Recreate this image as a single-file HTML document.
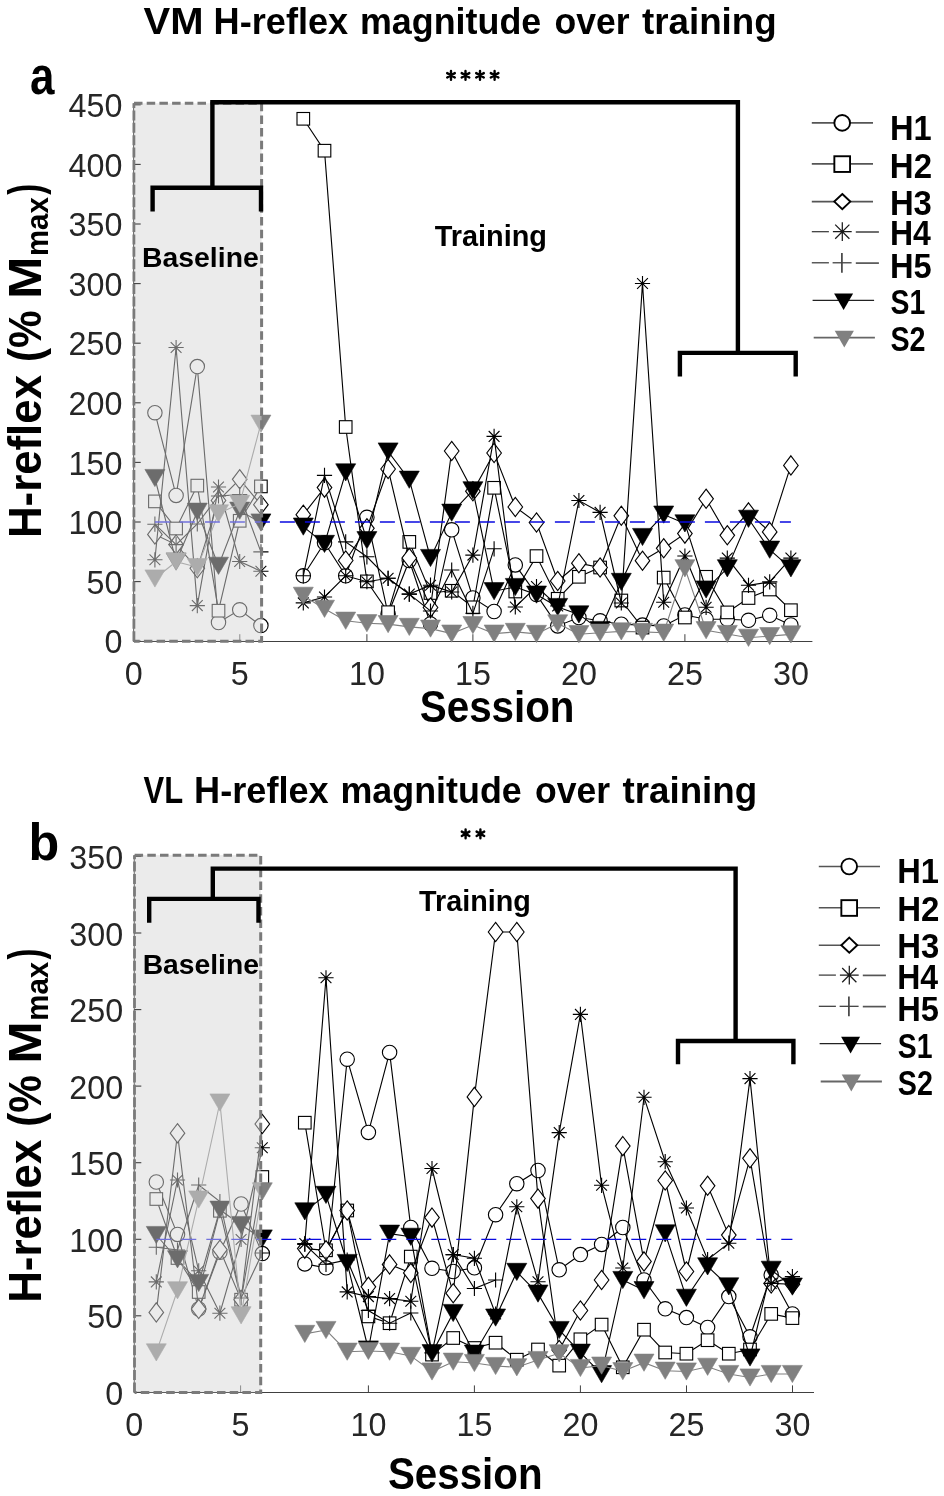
<!DOCTYPE html>
<html><head><meta charset="utf-8"><title>H-reflex magnitude over training</title>
<style>
html,body{margin:0;padding:0;background:#fff;}
body{width:944px;height:1496px;overflow:hidden;font-family:"Liberation Sans",sans-serif;}
svg{display:block;font-family:"Liberation Sans",sans-serif;}
</style></head><body>
<svg style="will-change:transform" width="944" height="1496" viewBox="0 0 944 1496">
<rect width="944" height="1496" fill="#fff"/>
<g id="panel-a">
<path d="M133.7 103.3V641.5H812.4" fill="none" stroke="#404040" stroke-width="1"/>
<line x1="133.7" y1="641.2" x2="133.7" y2="634.2" stroke="#404040" stroke-width="1"/>
<line x1="239.8" y1="641.2" x2="239.8" y2="634.2" stroke="#404040" stroke-width="1"/>
<line x1="366.9" y1="641.2" x2="366.9" y2="634.2" stroke="#404040" stroke-width="1"/>
<line x1="472.9" y1="641.2" x2="472.9" y2="634.2" stroke="#404040" stroke-width="1"/>
<line x1="578.9" y1="641.2" x2="578.9" y2="634.2" stroke="#404040" stroke-width="1"/>
<line x1="684.9" y1="641.2" x2="684.9" y2="634.2" stroke="#404040" stroke-width="1"/>
<line x1="790.9" y1="641.2" x2="790.9" y2="634.2" stroke="#404040" stroke-width="1"/>
<polyline fill="none" stroke="#000" stroke-width="1.12" points="154.9,412.7 176.1,495.4 197.3,366.6 218.5,622.5 239.7,609.8 260.9,625.6"/>
<circle cx="154.9" cy="412.7" r="7.2" fill="#fff" stroke="#000" stroke-width="1.12"/>
<circle cx="176.1" cy="495.4" r="7.2" fill="#fff" stroke="#000" stroke-width="1.12"/>
<circle cx="197.3" cy="366.6" r="7.2" fill="#fff" stroke="#000" stroke-width="1.12"/>
<circle cx="218.5" cy="622.5" r="7.2" fill="#fff" stroke="#000" stroke-width="1.12"/>
<circle cx="239.7" cy="609.8" r="7.2" fill="#fff" stroke="#000" stroke-width="1.12"/>
<circle cx="260.9" cy="625.6" r="7.2" fill="#fff" stroke="#000" stroke-width="1.12"/>
<polyline fill="none" stroke="#000" stroke-width="1.12" points="303.3,575.8 324.5,542.7 345.7,575.8 366.9,517.3 388.1,614.0 409.3,560.5 430.5,624.0 451.7,529.8 472.9,598.0 494.1,611.5 515.3,564.9 536.5,594.6 557.7,625.9 578.9,617.5 600.1,620.8 621.3,624.2 642.5,625.1 663.7,625.9 684.9,615.0 706.1,619.2 727.3,619.2 748.5,620.3 769.7,615.3 790.9,625.0"/>
<circle cx="303.3" cy="575.8" r="7.2" fill="#fff" stroke="#000" stroke-width="1.12"/>
<circle cx="324.5" cy="542.7" r="7.2" fill="#fff" stroke="#000" stroke-width="1.12"/>
<circle cx="345.7" cy="575.8" r="7.2" fill="#fff" stroke="#000" stroke-width="1.12"/>
<circle cx="366.9" cy="517.3" r="7.2" fill="#fff" stroke="#000" stroke-width="1.12"/>
<circle cx="388.1" cy="614" r="7.2" fill="#fff" stroke="#000" stroke-width="1.12"/>
<circle cx="409.3" cy="560.5" r="7.2" fill="#fff" stroke="#000" stroke-width="1.12"/>
<circle cx="430.5" cy="624" r="7.2" fill="#fff" stroke="#000" stroke-width="1.12"/>
<circle cx="451.7" cy="529.8" r="7.2" fill="#fff" stroke="#000" stroke-width="1.12"/>
<circle cx="472.9" cy="598" r="7.2" fill="#fff" stroke="#000" stroke-width="1.12"/>
<circle cx="494.1" cy="611.5" r="7.2" fill="#fff" stroke="#000" stroke-width="1.12"/>
<circle cx="515.3" cy="564.9" r="7.2" fill="#fff" stroke="#000" stroke-width="1.12"/>
<circle cx="536.5" cy="594.6" r="7.2" fill="#fff" stroke="#000" stroke-width="1.12"/>
<circle cx="557.7" cy="625.9" r="7.2" fill="#fff" stroke="#000" stroke-width="1.12"/>
<circle cx="578.9" cy="617.5" r="7.2" fill="#fff" stroke="#000" stroke-width="1.12"/>
<circle cx="600.1" cy="620.8" r="7.2" fill="#fff" stroke="#000" stroke-width="1.12"/>
<circle cx="621.3" cy="624.2" r="7.2" fill="#fff" stroke="#000" stroke-width="1.12"/>
<circle cx="642.5" cy="625.1" r="7.2" fill="#fff" stroke="#000" stroke-width="1.12"/>
<circle cx="663.7" cy="625.9" r="7.2" fill="#fff" stroke="#000" stroke-width="1.12"/>
<circle cx="684.9" cy="615" r="7.2" fill="#fff" stroke="#000" stroke-width="1.12"/>
<circle cx="706.1" cy="619.2" r="7.2" fill="#fff" stroke="#000" stroke-width="1.12"/>
<circle cx="727.3" cy="619.2" r="7.2" fill="#fff" stroke="#000" stroke-width="1.12"/>
<circle cx="748.5" cy="620.3" r="7.2" fill="#fff" stroke="#000" stroke-width="1.12"/>
<circle cx="769.7" cy="615.3" r="7.2" fill="#fff" stroke="#000" stroke-width="1.12"/>
<circle cx="790.9" cy="625" r="7.2" fill="#fff" stroke="#000" stroke-width="1.12"/>
<polyline fill="none" stroke="#000" stroke-width="1.12" points="154.9,501.4 176.1,528.5 197.3,485.6 218.5,610.7 239.7,520.8 260.9,486.4"/>
<rect x="148.6" y="495.1" width="12.6" height="12.6" fill="#fff" stroke="#000" stroke-width="1.12"/>
<rect x="169.8" y="522.2" width="12.6" height="12.6" fill="#fff" stroke="#000" stroke-width="1.12"/>
<rect x="191.0" y="479.3" width="12.6" height="12.6" fill="#fff" stroke="#000" stroke-width="1.12"/>
<rect x="212.2" y="604.4" width="12.6" height="12.6" fill="#fff" stroke="#000" stroke-width="1.12"/>
<rect x="233.4" y="514.5" width="12.6" height="12.6" fill="#fff" stroke="#000" stroke-width="1.12"/>
<rect x="254.6" y="480.1" width="12.6" height="12.6" fill="#fff" stroke="#000" stroke-width="1.12"/>
<polyline fill="none" stroke="#000" stroke-width="1.12" points="303.3,118.8 324.5,150.7 345.7,427.0 366.9,581.4 388.1,612.2 409.3,541.9 430.5,593.0 451.7,590.8 472.9,607.3 494.1,487.8 515.3,591.5 536.5,556.1 557.7,598.8 578.9,576.8 600.1,567.5 621.3,600.5 642.5,627.6 663.7,577.6 684.9,617.5 706.1,576.8 727.3,612.4 748.5,598.0 769.7,589.5 790.9,610.2"/>
<rect x="297.0" y="112.5" width="12.6" height="12.6" fill="#fff" stroke="#000" stroke-width="1.12"/>
<rect x="318.2" y="144.4" width="12.6" height="12.6" fill="#fff" stroke="#000" stroke-width="1.12"/>
<rect x="339.4" y="420.7" width="12.6" height="12.6" fill="#fff" stroke="#000" stroke-width="1.12"/>
<rect x="360.6" y="575.1" width="12.6" height="12.6" fill="#fff" stroke="#000" stroke-width="1.12"/>
<rect x="381.8" y="605.9" width="12.6" height="12.6" fill="#fff" stroke="#000" stroke-width="1.12"/>
<rect x="403.0" y="535.6" width="12.6" height="12.6" fill="#fff" stroke="#000" stroke-width="1.12"/>
<rect x="424.2" y="586.7" width="12.6" height="12.6" fill="#fff" stroke="#000" stroke-width="1.12"/>
<rect x="445.4" y="584.5" width="12.6" height="12.6" fill="#fff" stroke="#000" stroke-width="1.12"/>
<rect x="466.6" y="601.0" width="12.6" height="12.6" fill="#fff" stroke="#000" stroke-width="1.12"/>
<rect x="487.8" y="481.5" width="12.6" height="12.6" fill="#fff" stroke="#000" stroke-width="1.12"/>
<rect x="509.0" y="585.2" width="12.6" height="12.6" fill="#fff" stroke="#000" stroke-width="1.12"/>
<rect x="530.2" y="549.8" width="12.6" height="12.6" fill="#fff" stroke="#000" stroke-width="1.12"/>
<rect x="551.4" y="592.5" width="12.6" height="12.6" fill="#fff" stroke="#000" stroke-width="1.12"/>
<rect x="572.6" y="570.5" width="12.6" height="12.6" fill="#fff" stroke="#000" stroke-width="1.12"/>
<rect x="593.8" y="561.2" width="12.6" height="12.6" fill="#fff" stroke="#000" stroke-width="1.12"/>
<rect x="615.0" y="594.2" width="12.6" height="12.6" fill="#fff" stroke="#000" stroke-width="1.12"/>
<rect x="636.2" y="621.3" width="12.6" height="12.6" fill="#fff" stroke="#000" stroke-width="1.12"/>
<rect x="657.4" y="571.3" width="12.6" height="12.6" fill="#fff" stroke="#000" stroke-width="1.12"/>
<rect x="678.6" y="611.2" width="12.6" height="12.6" fill="#fff" stroke="#000" stroke-width="1.12"/>
<rect x="699.8" y="570.5" width="12.6" height="12.6" fill="#fff" stroke="#000" stroke-width="1.12"/>
<rect x="721.0" y="606.1" width="12.6" height="12.6" fill="#fff" stroke="#000" stroke-width="1.12"/>
<rect x="742.2" y="591.7" width="12.6" height="12.6" fill="#fff" stroke="#000" stroke-width="1.12"/>
<rect x="763.4" y="583.2" width="12.6" height="12.6" fill="#fff" stroke="#000" stroke-width="1.12"/>
<rect x="784.6" y="603.9" width="12.6" height="12.6" fill="#fff" stroke="#000" stroke-width="1.12"/>
<polyline fill="none" stroke="#000" stroke-width="1.12" points="154.9,534.4 176.1,544.6 197.3,568.3 218.5,500.5 239.7,479.3 260.9,504.7"/>
<path d="M154.9 524.8L162.2 534.4L154.9 544.0L147.6 534.4Z" fill="#fff" stroke="#000" stroke-width="1.12"/>
<path d="M176.1 535.0L183.4 544.6L176.1 554.2L168.8 544.6Z" fill="#fff" stroke="#000" stroke-width="1.12"/>
<path d="M197.3 558.7L204.6 568.3L197.3 577.9L190.0 568.3Z" fill="#fff" stroke="#000" stroke-width="1.12"/>
<path d="M218.5 490.9L225.8 500.5L218.5 510.1L211.2 500.5Z" fill="#fff" stroke="#000" stroke-width="1.12"/>
<path d="M239.7 469.7L247.0 479.3L239.7 488.9L232.4 479.3Z" fill="#fff" stroke="#000" stroke-width="1.12"/>
<path d="M260.9 495.1L268.2 504.7L260.9 514.3L253.6 504.7Z" fill="#fff" stroke="#000" stroke-width="1.12"/>
<polyline fill="none" stroke="#000" stroke-width="1.12" points="303.3,514.7 324.5,487.6 345.7,560.5 366.9,528.3 388.1,469.0 409.3,558.0 430.5,607.5 451.7,451.0 472.9,491.2 494.1,453.0 515.3,507.0 536.5,522.5 557.7,581.0 578.9,563.2 600.1,567.5 621.3,515.8 642.5,560.7 663.7,548.3 684.9,533.6 706.1,498.8 727.3,535.3 748.5,512.4 769.7,531.9 790.9,465.4"/>
<path d="M303.3 505.1L310.6 514.7L303.3 524.3L296.0 514.7Z" fill="#fff" stroke="#000" stroke-width="1.12"/>
<path d="M324.5 478.0L331.8 487.6L324.5 497.2L317.2 487.6Z" fill="#fff" stroke="#000" stroke-width="1.12"/>
<path d="M345.7 550.9L353.0 560.5L345.7 570.1L338.4 560.5Z" fill="#fff" stroke="#000" stroke-width="1.12"/>
<path d="M366.9 518.7L374.2 528.3L366.9 537.9L359.6 528.3Z" fill="#fff" stroke="#000" stroke-width="1.12"/>
<path d="M388.1 459.4L395.4 469L388.1 478.6L380.8 469Z" fill="#fff" stroke="#000" stroke-width="1.12"/>
<path d="M409.3 548.4L416.6 558L409.3 567.6L402.0 558Z" fill="#fff" stroke="#000" stroke-width="1.12"/>
<path d="M430.5 597.9L437.8 607.5L430.5 617.1L423.2 607.5Z" fill="#fff" stroke="#000" stroke-width="1.12"/>
<path d="M451.7 441.4L459.0 451L451.7 460.6L444.4 451Z" fill="#fff" stroke="#000" stroke-width="1.12"/>
<path d="M472.9 481.6L480.2 491.2L472.9 500.8L465.6 491.2Z" fill="#fff" stroke="#000" stroke-width="1.12"/>
<path d="M494.1 443.4L501.4 453L494.1 462.6L486.8 453Z" fill="#fff" stroke="#000" stroke-width="1.12"/>
<path d="M515.3 497.4L522.6 507L515.3 516.6L508.0 507Z" fill="#fff" stroke="#000" stroke-width="1.12"/>
<path d="M536.5 512.9L543.8 522.5L536.5 532.1L529.2 522.5Z" fill="#fff" stroke="#000" stroke-width="1.12"/>
<path d="M557.7 571.4L565.0 581L557.7 590.6L550.4 581Z" fill="#fff" stroke="#000" stroke-width="1.12"/>
<path d="M578.9 553.6L586.2 563.2L578.9 572.8L571.6 563.2Z" fill="#fff" stroke="#000" stroke-width="1.12"/>
<path d="M600.1 557.9L607.4 567.5L600.1 577.1L592.8 567.5Z" fill="#fff" stroke="#000" stroke-width="1.12"/>
<path d="M621.3 506.2L628.6 515.8L621.3 525.4L614.0 515.8Z" fill="#fff" stroke="#000" stroke-width="1.12"/>
<path d="M642.5 551.1L649.8 560.7L642.5 570.3L635.2 560.7Z" fill="#fff" stroke="#000" stroke-width="1.12"/>
<path d="M663.7 538.7L671.0 548.3L663.7 557.9L656.4 548.3Z" fill="#fff" stroke="#000" stroke-width="1.12"/>
<path d="M684.9 524.0L692.2 533.6L684.9 543.2L677.6 533.6Z" fill="#fff" stroke="#000" stroke-width="1.12"/>
<path d="M706.1 489.2L713.4 498.8L706.1 508.4L698.8 498.8Z" fill="#fff" stroke="#000" stroke-width="1.12"/>
<path d="M727.3 525.7L734.6 535.3L727.3 544.9L720.0 535.3Z" fill="#fff" stroke="#000" stroke-width="1.12"/>
<path d="M748.5 502.8L755.8 512.4L748.5 522.0L741.2 512.4Z" fill="#fff" stroke="#000" stroke-width="1.12"/>
<path d="M769.7 522.3L777.0 531.9L769.7 541.5L762.4 531.9Z" fill="#fff" stroke="#000" stroke-width="1.12"/>
<path d="M790.9 455.8L798.2 465.4L790.9 475.0L783.6 465.4Z" fill="#fff" stroke="#000" stroke-width="1.12"/>
<polyline fill="none" stroke="#000" stroke-width="1.12" points="154.9,559.8 176.1,347.5 197.3,605.6 218.5,487.0 239.7,561.5 260.9,571.2"/>
<path d="M147.3 559.8H162.5M154.9 552.2V567.4M149.5 554.4L160.3 565.2M149.5 565.2L160.3 554.4" fill="none" stroke="#000" stroke-width="1.12"/>
<path d="M168.5 347.5H183.7M176.1 339.9V355.1M170.7 342.1L181.5 352.9M170.7 352.9L181.5 342.1" fill="none" stroke="#000" stroke-width="1.12"/>
<path d="M189.7 605.6H204.9M197.3 598.0V613.2M191.9 600.2L202.7 611.0M191.9 611.0L202.7 600.2" fill="none" stroke="#000" stroke-width="1.12"/>
<path d="M210.9 487H226.1M218.5 479.4V494.6M213.1 481.6L223.9 492.4M213.1 492.4L223.9 481.6" fill="none" stroke="#000" stroke-width="1.12"/>
<path d="M232.1 561.5H247.3M239.7 553.9V569.1M234.3 556.1L245.1 566.9M234.3 566.9L245.1 556.1" fill="none" stroke="#000" stroke-width="1.12"/>
<path d="M253.3 571.2H268.5M260.9 563.6V578.8M255.5 565.8L266.3 576.6M255.5 576.6L266.3 565.8" fill="none" stroke="#000" stroke-width="1.12"/>
<polyline fill="none" stroke="#000" stroke-width="1.12" points="303.3,602.9 324.5,597.0 345.7,575.8 366.9,581.7 388.1,578.3 409.3,594.1 430.5,585.2 451.7,592.0 472.9,555.1 494.1,436.4 515.3,607.0 536.5,586.5 557.7,606.0 578.9,500.5 600.1,512.4 621.3,603.0 642.5,283.5 663.7,602.2 684.9,556.0 706.1,607.3 727.3,558.1 748.5,585.3 769.7,581.9 790.9,558.1"/>
<path d="M295.7 602.9H310.9M303.3 595.3V610.5M297.9 597.5L308.7 608.3M297.9 608.3L308.7 597.5" fill="none" stroke="#000" stroke-width="1.12"/>
<path d="M316.9 597H332.1M324.5 589.4V604.6M319.1 591.6L329.9 602.4M319.1 602.4L329.9 591.6" fill="none" stroke="#000" stroke-width="1.12"/>
<path d="M338.1 575.8H353.3M345.7 568.2V583.4M340.3 570.4L351.1 581.2M340.3 581.2L351.1 570.4" fill="none" stroke="#000" stroke-width="1.12"/>
<path d="M359.3 581.7H374.5M366.9 574.1V589.3M361.5 576.3L372.3 587.1M361.5 587.1L372.3 576.3" fill="none" stroke="#000" stroke-width="1.12"/>
<path d="M380.5 578.3H395.7M388.1 570.7V585.9M382.7 572.9L393.5 583.7M382.7 583.7L393.5 572.9" fill="none" stroke="#000" stroke-width="1.12"/>
<path d="M401.7 594.1H416.9M409.3 586.5V601.7M403.9 588.7L414.7 599.5M403.9 599.5L414.7 588.7" fill="none" stroke="#000" stroke-width="1.12"/>
<path d="M422.9 585.2H438.1M430.5 577.6V592.8M425.1 579.8L435.9 590.6M425.1 590.6L435.9 579.8" fill="none" stroke="#000" stroke-width="1.12"/>
<path d="M444.1 592H459.3M451.7 584.4V599.6M446.3 586.6L457.1 597.4M446.3 597.4L457.1 586.6" fill="none" stroke="#000" stroke-width="1.12"/>
<path d="M465.3 555.1H480.5M472.9 547.5V562.7M467.5 549.7L478.3 560.5M467.5 560.5L478.3 549.7" fill="none" stroke="#000" stroke-width="1.12"/>
<path d="M486.5 436.4H501.7M494.1 428.8V444.0M488.7 431.0L499.5 441.8M488.7 441.8L499.5 431.0" fill="none" stroke="#000" stroke-width="1.12"/>
<path d="M507.7 607H522.9M515.3 599.4V614.6M509.9 601.6L520.7 612.4M509.9 612.4L520.7 601.6" fill="none" stroke="#000" stroke-width="1.12"/>
<path d="M528.9 586.5H544.1M536.5 578.9V594.1M531.1 581.1L541.9 591.9M531.1 591.9L541.9 581.1" fill="none" stroke="#000" stroke-width="1.12"/>
<path d="M550.1 606H565.3M557.7 598.4V613.6M552.3 600.6L563.1 611.4M552.3 611.4L563.1 600.6" fill="none" stroke="#000" stroke-width="1.12"/>
<path d="M571.3 500.5H586.5M578.9 492.9V508.1M573.5 495.1L584.3 505.9M573.5 505.9L584.3 495.1" fill="none" stroke="#000" stroke-width="1.12"/>
<path d="M592.5 512.4H607.7M600.1 504.8V520.0M594.7 507.0L605.5 517.8M594.7 517.8L605.5 507.0" fill="none" stroke="#000" stroke-width="1.12"/>
<path d="M613.7 603H628.9M621.3 595.4V610.6M615.9 597.6L626.7 608.4M615.9 608.4L626.7 597.6" fill="none" stroke="#000" stroke-width="1.12"/>
<path d="M634.9 283.5H650.1M642.5 275.9V291.1M637.1 278.1L647.9 288.9M637.1 288.9L647.9 278.1" fill="none" stroke="#000" stroke-width="1.12"/>
<path d="M656.1 602.2H671.3M663.7 594.6V609.8M658.3 596.8L669.1 607.6M658.3 607.6L669.1 596.8" fill="none" stroke="#000" stroke-width="1.12"/>
<path d="M677.3 556H692.5M684.9 548.4V563.6M679.5 550.6L690.3 561.4M679.5 561.4L690.3 550.6" fill="none" stroke="#000" stroke-width="1.12"/>
<path d="M698.5 607.3H713.7M706.1 599.7V614.9M700.7 601.9L711.5 612.7M700.7 612.7L711.5 601.9" fill="none" stroke="#000" stroke-width="1.12"/>
<path d="M719.7 558.1H734.9M727.3 550.5V565.7M721.9 552.7L732.7 563.5M721.9 563.5L732.7 552.7" fill="none" stroke="#000" stroke-width="1.12"/>
<path d="M740.9 585.3H756.1M748.5 577.7V592.9M743.1 579.9L753.9 590.7M743.1 590.7L753.9 579.9" fill="none" stroke="#000" stroke-width="1.12"/>
<path d="M762.1 581.9H777.3M769.7 574.3V589.5M764.3 576.5L775.1 587.3M764.3 587.3L775.1 576.5" fill="none" stroke="#000" stroke-width="1.12"/>
<path d="M783.3 558.1H798.5M790.9 550.5V565.7M785.5 552.7L796.3 563.5M785.5 563.5L796.3 552.7" fill="none" stroke="#000" stroke-width="1.12"/>
<polyline fill="none" stroke="#000" stroke-width="1.12" points="154.9,524.2 176.1,544.6 197.3,524.0 218.5,496.0 239.7,494.6 260.9,551.9"/>
<path d="M147.3 524.2H162.5M154.9 516.6V531.8" fill="none" stroke="#000" stroke-width="1.12"/>
<path d="M168.5 544.6H183.7M176.1 537.0V552.2" fill="none" stroke="#000" stroke-width="1.12"/>
<path d="M189.7 524H204.9M197.3 516.4V531.6" fill="none" stroke="#000" stroke-width="1.12"/>
<path d="M210.9 496H226.1M218.5 488.4V503.6" fill="none" stroke="#000" stroke-width="1.12"/>
<path d="M232.1 494.6H247.3M239.7 487.0V502.2" fill="none" stroke="#000" stroke-width="1.12"/>
<path d="M253.3 551.9H268.5M260.9 544.3V559.5" fill="none" stroke="#000" stroke-width="1.12"/>
<polyline fill="none" stroke="#000" stroke-width="1.12" points="303.3,575.8 324.5,475.4 345.7,541.9 366.9,556.8 388.1,578.3 409.3,594.1 430.5,611.0 451.7,570.0 472.9,613.3 494.1,548.8"/>
<path d="M295.7 575.8H310.9M303.3 568.2V583.4" fill="none" stroke="#000" stroke-width="1.12"/>
<path d="M316.9 475.4H332.1M324.5 467.8V483.0" fill="none" stroke="#000" stroke-width="1.12"/>
<path d="M338.1 541.9H353.3M345.7 534.3V549.5" fill="none" stroke="#000" stroke-width="1.12"/>
<path d="M359.3 556.8H374.5M366.9 549.2V564.4" fill="none" stroke="#000" stroke-width="1.12"/>
<path d="M380.5 578.3H395.7M388.1 570.7V585.9" fill="none" stroke="#000" stroke-width="1.12"/>
<path d="M401.7 594.1H416.9M409.3 586.5V601.7" fill="none" stroke="#000" stroke-width="1.12"/>
<path d="M422.9 611H438.1M430.5 603.4V618.6" fill="none" stroke="#000" stroke-width="1.12"/>
<path d="M444.1 570H459.3M451.7 562.4V577.6" fill="none" stroke="#000" stroke-width="1.12"/>
<path d="M465.3 613.3H480.5M472.9 605.7V620.9" fill="none" stroke="#000" stroke-width="1.12"/>
<path d="M486.5 548.8H501.7M494.1 541.2V556.4" fill="none" stroke="#000" stroke-width="1.12"/>
<polyline fill="none" stroke="#000" stroke-width="1.12" points="154.9,478.0 176.1,561.5 197.3,511.7 218.5,565.8 239.7,510.7 260.9,522.5"/>
<path d="M144.9 469.4H164.9L154.9 486.6Z" fill="#000" stroke="#000" stroke-width="0.6"/>
<path d="M166.1 552.9H186.1L176.1 570.1Z" fill="#000" stroke="#000" stroke-width="0.6"/>
<path d="M187.3 503.1H207.3L197.3 520.3Z" fill="#000" stroke="#000" stroke-width="0.6"/>
<path d="M208.5 557.2H228.5L218.5 574.4Z" fill="#000" stroke="#000" stroke-width="0.6"/>
<path d="M229.7 502.1H249.7L239.7 519.3Z" fill="#000" stroke="#000" stroke-width="0.6"/>
<path d="M250.9 513.9H270.9L260.9 531.1Z" fill="#000" stroke="#000" stroke-width="0.6"/>
<polyline fill="none" stroke="#000" stroke-width="1.12" points="303.3,526.6 324.5,543.9 345.7,472.4 366.9,540.2 388.1,451.5 409.3,479.7 430.5,558.0 451.7,512.7 472.9,490.3 494.1,591.2 515.3,587.0 536.5,594.6 557.7,607.0 578.9,614.4 600.1,630.0 621.3,581.9 642.5,537.0 663.7,514.6 684.9,523.4 706.1,589.5 727.3,568.3 748.5,518.8 769.7,549.7 790.9,568.3"/>
<path d="M293.3 518.0H313.3L303.3 535.2Z" fill="#000" stroke="#000" stroke-width="0.6"/>
<path d="M314.5 535.3H334.5L324.5 552.5Z" fill="#000" stroke="#000" stroke-width="0.6"/>
<path d="M335.7 463.8H355.7L345.7 481.0Z" fill="#000" stroke="#000" stroke-width="0.6"/>
<path d="M356.9 531.6H376.9L366.9 548.8Z" fill="#000" stroke="#000" stroke-width="0.6"/>
<path d="M378.1 442.9H398.1L388.1 460.1Z" fill="#000" stroke="#000" stroke-width="0.6"/>
<path d="M399.3 471.1H419.3L409.3 488.3Z" fill="#000" stroke="#000" stroke-width="0.6"/>
<path d="M420.5 549.4H440.5L430.5 566.6Z" fill="#000" stroke="#000" stroke-width="0.6"/>
<path d="M441.7 504.1H461.7L451.7 521.3Z" fill="#000" stroke="#000" stroke-width="0.6"/>
<path d="M462.9 481.7H482.9L472.9 498.9Z" fill="#000" stroke="#000" stroke-width="0.6"/>
<path d="M484.1 582.6H504.1L494.1 599.8Z" fill="#000" stroke="#000" stroke-width="0.6"/>
<path d="M505.3 578.4H525.3L515.3 595.6Z" fill="#000" stroke="#000" stroke-width="0.6"/>
<path d="M526.5 586.0H546.5L536.5 603.2Z" fill="#000" stroke="#000" stroke-width="0.6"/>
<path d="M547.7 598.4H567.7L557.7 615.6Z" fill="#000" stroke="#000" stroke-width="0.6"/>
<path d="M568.9 605.8H588.9L578.9 623.0Z" fill="#000" stroke="#000" stroke-width="0.6"/>
<path d="M590.1 621.4H610.1L600.1 638.6Z" fill="#000" stroke="#000" stroke-width="0.6"/>
<path d="M611.3 573.3H631.3L621.3 590.5Z" fill="#000" stroke="#000" stroke-width="0.6"/>
<path d="M632.5 528.4H652.5L642.5 545.6Z" fill="#000" stroke="#000" stroke-width="0.6"/>
<path d="M653.7 506.0H673.7L663.7 523.2Z" fill="#000" stroke="#000" stroke-width="0.6"/>
<path d="M674.9 514.8H694.9L684.9 532.0Z" fill="#000" stroke="#000" stroke-width="0.6"/>
<path d="M696.1 580.9H716.1L706.1 598.1Z" fill="#000" stroke="#000" stroke-width="0.6"/>
<path d="M717.3 559.7H737.3L727.3 576.9Z" fill="#000" stroke="#000" stroke-width="0.6"/>
<path d="M738.5 510.2H758.5L748.5 527.4Z" fill="#000" stroke="#000" stroke-width="0.6"/>
<path d="M759.7 541.1H779.7L769.7 558.3Z" fill="#000" stroke="#000" stroke-width="0.6"/>
<path d="M780.9 559.7H800.9L790.9 576.9Z" fill="#000" stroke="#000" stroke-width="0.6"/>
<polyline fill="none" stroke="#808080" stroke-width="1.1" points="154.9,578.5 176.1,561.7 197.3,567.2 218.5,513.4 239.7,503.9 260.9,423.7"/>
<path d="M144.9 569.9H164.9L154.9 587.1Z" fill="#808080" stroke="#808080" stroke-width="0.6"/>
<path d="M166.1 553.1H186.1L176.1 570.3Z" fill="#808080" stroke="#808080" stroke-width="0.6"/>
<path d="M187.3 558.6H207.3L197.3 575.8Z" fill="#808080" stroke="#808080" stroke-width="0.6"/>
<path d="M208.5 504.8H228.5L218.5 522.0Z" fill="#808080" stroke="#808080" stroke-width="0.6"/>
<path d="M229.7 495.3H249.7L239.7 512.5Z" fill="#808080" stroke="#808080" stroke-width="0.6"/>
<path d="M250.9 415.1H270.9L260.9 432.3Z" fill="#808080" stroke="#808080" stroke-width="0.6"/>
<polyline fill="none" stroke="#808080" stroke-width="1.1" points="303.3,595.8 324.5,608.8 345.7,620.7 366.9,623.2 388.1,624.1 409.3,626.9 430.5,628.6 451.7,633.6 472.9,625.1 494.1,633.6 515.3,631.9 536.5,633.9 557.7,623.4 578.9,634.2 600.1,632.7 621.3,631.4 642.5,631.9 663.7,632.7 684.9,568.3 706.1,630.2 727.3,634.0 748.5,637.8 769.7,636.1 790.9,634.4"/>
<path d="M293.3 587.2H313.3L303.3 604.4Z" fill="#808080" stroke="#808080" stroke-width="0.6"/>
<path d="M314.5 600.2H334.5L324.5 617.4Z" fill="#808080" stroke="#808080" stroke-width="0.6"/>
<path d="M335.7 612.1H355.7L345.7 629.3Z" fill="#808080" stroke="#808080" stroke-width="0.6"/>
<path d="M356.9 614.6H376.9L366.9 631.8Z" fill="#808080" stroke="#808080" stroke-width="0.6"/>
<path d="M378.1 615.5H398.1L388.1 632.7Z" fill="#808080" stroke="#808080" stroke-width="0.6"/>
<path d="M399.3 618.3H419.3L409.3 635.5Z" fill="#808080" stroke="#808080" stroke-width="0.6"/>
<path d="M420.5 620.0H440.5L430.5 637.2Z" fill="#808080" stroke="#808080" stroke-width="0.6"/>
<path d="M441.7 625.0H461.7L451.7 642.2Z" fill="#808080" stroke="#808080" stroke-width="0.6"/>
<path d="M462.9 616.5H482.9L472.9 633.7Z" fill="#808080" stroke="#808080" stroke-width="0.6"/>
<path d="M484.1 625.0H504.1L494.1 642.2Z" fill="#808080" stroke="#808080" stroke-width="0.6"/>
<path d="M505.3 623.3H525.3L515.3 640.5Z" fill="#808080" stroke="#808080" stroke-width="0.6"/>
<path d="M526.5 625.3H546.5L536.5 642.5Z" fill="#808080" stroke="#808080" stroke-width="0.6"/>
<path d="M547.7 614.8H567.7L557.7 632.0Z" fill="#808080" stroke="#808080" stroke-width="0.6"/>
<path d="M568.9 625.6H588.9L578.9 642.8Z" fill="#808080" stroke="#808080" stroke-width="0.6"/>
<path d="M590.1 624.1H610.1L600.1 641.3Z" fill="#808080" stroke="#808080" stroke-width="0.6"/>
<path d="M611.3 622.8H631.3L621.3 640.0Z" fill="#808080" stroke="#808080" stroke-width="0.6"/>
<path d="M632.5 623.3H652.5L642.5 640.5Z" fill="#808080" stroke="#808080" stroke-width="0.6"/>
<path d="M653.7 624.1H673.7L663.7 641.3Z" fill="#808080" stroke="#808080" stroke-width="0.6"/>
<path d="M674.9 559.7H694.9L684.9 576.9Z" fill="#808080" stroke="#808080" stroke-width="0.6"/>
<path d="M696.1 621.6H716.1L706.1 638.8Z" fill="#808080" stroke="#808080" stroke-width="0.6"/>
<path d="M717.3 625.4H737.3L727.3 642.6Z" fill="#808080" stroke="#808080" stroke-width="0.6"/>
<path d="M738.5 629.2H758.5L748.5 646.4Z" fill="#808080" stroke="#808080" stroke-width="0.6"/>
<path d="M759.7 627.5H779.7L769.7 644.7Z" fill="#808080" stroke="#808080" stroke-width="0.6"/>
<path d="M780.9 625.8H800.9L790.9 643.0Z" fill="#808080" stroke="#808080" stroke-width="0.6"/>
<line x1="154.9" y1="522.0" x2="790.9" y2="522.0" stroke="#0a0ae0" stroke-width="1.3" stroke-dasharray="15 10"/>
<rect x="133.7" y="103.3" width="127.9" height="537.9" fill="rgb(215,215,215)" fill-opacity="0.5"/>
<line x1="133.7" y1="641.2" x2="140.7" y2="641.2" stroke="#404040" stroke-width="1.1"/>
<text x="122.5" y="653.3" text-anchor="end" font-size="32.3" fill="#262626">0</text>
<line x1="133.7" y1="581.6" x2="140.7" y2="581.6" stroke="#404040" stroke-width="1.1"/>
<text x="122.5" y="593.7" text-anchor="end" font-size="32.3" fill="#262626">50</text>
<line x1="133.7" y1="522.0" x2="140.7" y2="522.0" stroke="#404040" stroke-width="1.1"/>
<text x="122.5" y="534.1" text-anchor="end" font-size="32.3" fill="#262626">100</text>
<line x1="133.7" y1="462.4" x2="140.7" y2="462.4" stroke="#404040" stroke-width="1.1"/>
<text x="122.5" y="474.5" text-anchor="end" font-size="32.3" fill="#262626">150</text>
<line x1="133.7" y1="402.8" x2="140.7" y2="402.8" stroke="#404040" stroke-width="1.1"/>
<text x="122.5" y="414.9" text-anchor="end" font-size="32.3" fill="#262626">200</text>
<line x1="133.7" y1="343.2" x2="140.7" y2="343.2" stroke="#404040" stroke-width="1.1"/>
<text x="122.5" y="355.3" text-anchor="end" font-size="32.3" fill="#262626">250</text>
<line x1="133.7" y1="283.6" x2="140.7" y2="283.6" stroke="#404040" stroke-width="1.1"/>
<text x="122.5" y="295.7" text-anchor="end" font-size="32.3" fill="#262626">300</text>
<line x1="133.7" y1="224.0" x2="140.7" y2="224.0" stroke="#404040" stroke-width="1.1"/>
<text x="122.5" y="236.1" text-anchor="end" font-size="32.3" fill="#262626">350</text>
<line x1="133.7" y1="164.4" x2="140.7" y2="164.4" stroke="#404040" stroke-width="1.1"/>
<text x="122.5" y="176.5" text-anchor="end" font-size="32.3" fill="#262626">400</text>
<line x1="133.7" y1="104.8" x2="140.7" y2="104.8" stroke="#404040" stroke-width="1.1"/>
<text x="122.5" y="116.9" text-anchor="end" font-size="32.3" fill="#262626">450</text>
<text x="133.7" y="685.3" text-anchor="middle" font-size="32.3" fill="#262626">0</text>
<text x="239.8" y="685.3" text-anchor="middle" font-size="32.3" fill="#262626">5</text>
<text x="366.9" y="685.3" text-anchor="middle" font-size="32.3" fill="#262626">10</text>
<text x="472.9" y="685.3" text-anchor="middle" font-size="32.3" fill="#262626">15</text>
<text x="578.9" y="685.3" text-anchor="middle" font-size="32.3" fill="#262626">20</text>
<text x="684.9" y="685.3" text-anchor="middle" font-size="32.3" fill="#262626">25</text>
<text x="790.9" y="685.3" text-anchor="middle" font-size="32.3" fill="#262626">30</text>
<path d="M134.0 103.3H261.6V641.2H134.0" fill="none" stroke="#7a7a7a" stroke-width="3" stroke-dasharray="8.5 4.2"/>
<path d="M133.89999999999998 641.2V103.3" fill="none" stroke="#7a7a7a" stroke-width="2.8" stroke-dasharray="10 2.4"/>
<path d="M212.4 187.7V102.3H737.9V352.9" stroke="#000" stroke-width="4.4" fill="none" stroke-linejoin="miter"/><path d="M152.6 211.6V187.7H261V211.6" stroke="#000" stroke-width="4.4" fill="none" stroke-linejoin="miter"/><path d="M679.9 376.4V352.9H795.7V376.4" stroke="#000" stroke-width="4.4" fill="none" stroke-linejoin="miter"/>
<text x="143.50" y="34" font-size="36.8" font-weight="bold" fill="#000" textLength="60.00" lengthAdjust="spacingAndGlyphs">VM</text><text x="213.56" y="34" font-size="36.8" font-weight="bold" fill="#000" textLength="134.66" lengthAdjust="spacingAndGlyphs">H-reflex</text><text x="359.97" y="34" font-size="36.8" font-weight="bold" fill="#000" textLength="181.33" lengthAdjust="spacingAndGlyphs">magnitude</text><text x="554.58" y="34" font-size="36.8" font-weight="bold" fill="#000" textLength="75.05" lengthAdjust="spacingAndGlyphs">over</text><text x="641.94" y="34" font-size="36.8" font-weight="bold" fill="#000" textLength="134.81" lengthAdjust="spacingAndGlyphs">training</text><text x="29.88" y="94.2" font-size="51" font-weight="bold" fill="#000" textLength="24.44" lengthAdjust="spacingAndGlyphs">a</text><path d="M451 70.90V79.70M447.19 73.10L454.81 77.50M447.19 77.50L454.81 73.10" stroke="#000" stroke-width="2.4" stroke-linecap="round" fill="none"/><path d="M465.5 70.90V79.70M461.69 73.10L469.31 77.50M461.69 77.50L469.31 73.10" stroke="#000" stroke-width="2.4" stroke-linecap="round" fill="none"/><path d="M480 70.90V79.70M476.19 73.10L483.81 77.50M476.19 77.50L483.81 73.10" stroke="#000" stroke-width="2.4" stroke-linecap="round" fill="none"/><path d="M494.6 70.90V79.70M490.79 73.10L498.41 77.50M490.79 77.50L498.41 73.10" stroke="#000" stroke-width="2.4" stroke-linecap="round" fill="none"/><text x="142.09" y="267.4" font-size="28.2" font-weight="bold" fill="#000" textLength="116.66" lengthAdjust="spacingAndGlyphs">Baseline</text><text x="434.71" y="246" font-size="30" font-weight="bold" fill="#000" textLength="112.32" lengthAdjust="spacingAndGlyphs">Training</text><text x="419.79" y="722.1" font-size="44" font-weight="bold" fill="#000" textLength="154.73" lengthAdjust="spacingAndGlyphs">Session</text><g transform="translate(41.2 0) rotate(-90)"><text x="-538.06" y="0" font-size="46" font-weight="bold" fill="#000" textLength="163.04" lengthAdjust="spacingAndGlyphs">H-reflex</text><text x="-362.11" y="0" font-size="46" font-weight="bold" fill="#000" textLength="51.66" lengthAdjust="spacingAndGlyphs">(%</text><text x="-299.03" y="0" font-size="46" font-weight="bold" fill="#000" textLength="42.28" lengthAdjust="spacingAndGlyphs">M</text><text x="-256.12" y="6.4" font-size="31" font-weight="bold" fill="#000" textLength="58.98" lengthAdjust="spacingAndGlyphs">max</text><text x="-194.68" y="0" font-size="46" font-weight="bold" fill="#000" textLength="10.94" lengthAdjust="spacingAndGlyphs">)</text></g>
<line x1="811.8" y1="122.9" x2="873.0" y2="122.9" stroke="#555" stroke-width="1.6"/>
<circle cx="842.2" cy="122.9" r="7.85" fill="#fff" stroke="#000" stroke-width="1.9"/>
<text x="889.90" y="139.6" font-size="34.3" font-weight="bold" fill="#000" textLength="41.73" lengthAdjust="spacingAndGlyphs">H1</text>
<line x1="811.8" y1="163.9" x2="873.0" y2="163.9" stroke="#555" stroke-width="1.6"/>
<rect x="834.35" y="156.25" width="15.7" height="15.7" fill="#fff" stroke="#000" stroke-width="1.9"/>
<text x="889.87" y="177.6" font-size="34.3" font-weight="bold" fill="#000" textLength="42.17" lengthAdjust="spacingAndGlyphs">H2</text>
<line x1="811.8" y1="201.6" x2="873.0" y2="201.6" stroke="#555" stroke-width="1.6"/>
<path d="M842.3 194.0l8 7.6l-8 7.6l-8 -7.6Z" fill="#fff" stroke="#000" stroke-width="1.9" stroke-linejoin="miter"/>
<text x="889.88" y="214.6" font-size="34.3" font-weight="bold" fill="#000" textLength="42.00" lengthAdjust="spacingAndGlyphs">H3</text>
<path d="M811.8 231.7h17.1" stroke="#333" stroke-width="1.2"/>
<path d="M855.8 232.0h23.1" stroke="#555" stroke-width="1.7"/>
<path d="M832.9 231.7h18.8M842.3 222.3v18.8M835.2 224.6l14.2 14.2M835.2 238.8l14.2 -14.2" stroke="#1a1a1a" stroke-width="1.25" fill="none"/>
<text x="889.94" y="245" font-size="34.3" font-weight="bold" fill="#000" textLength="40.95" lengthAdjust="spacingAndGlyphs">H4</text>
<path d="M811.8 262.8h17.1" stroke="#333" stroke-width="1.2"/>
<path d="M855.8 263.1h23.1" stroke="#555" stroke-width="1.7"/>
<path d="M832.6 262.8h19" stroke="#333" stroke-width="1.2" fill="none"/>
<path d="M841.9 253.0v19.8" stroke="#444" stroke-width="1.7" fill="none"/>
<text x="889.90" y="277.5" font-size="34.3" font-weight="bold" fill="#000" textLength="41.73" lengthAdjust="spacingAndGlyphs">H5</text>
<line x1="812.6" y1="300.3" x2="874.1" y2="300.3" stroke="#222" stroke-width="1.3"/>
<path d="M834.1 293.4h19l-9.5 16.7Z" fill="#000"/>
<text x="890.45" y="314" font-size="34.3" font-weight="bold" fill="#000" textLength="34.75" lengthAdjust="spacingAndGlyphs">S1</text>
<line x1="813.7" y1="337.6" x2="874.9" y2="337.6" stroke="#666" stroke-width="1.8"/>
<path d="M834.7 330.7h19.2l-9.6 16.8Z" fill="#808080"/>
<text x="890.44" y="351" font-size="34.3" font-weight="bold" fill="#000" textLength="35.13" lengthAdjust="spacingAndGlyphs">S2</text>
</g>
<g id="panel-b">
<path d="M134.3 855.2V1392.5H814" fill="none" stroke="#404040" stroke-width="1"/>
<line x1="134.3" y1="1392.4" x2="134.3" y2="1385.4" stroke="#404040" stroke-width="1"/>
<line x1="240.6" y1="1392.4" x2="240.6" y2="1385.4" stroke="#404040" stroke-width="1"/>
<line x1="368.4" y1="1392.4" x2="368.4" y2="1385.4" stroke="#404040" stroke-width="1"/>
<line x1="474.4" y1="1392.4" x2="474.4" y2="1385.4" stroke="#404040" stroke-width="1"/>
<line x1="580.4" y1="1392.4" x2="580.4" y2="1385.4" stroke="#404040" stroke-width="1"/>
<line x1="686.5" y1="1392.4" x2="686.5" y2="1385.4" stroke="#404040" stroke-width="1"/>
<line x1="792.5" y1="1392.4" x2="792.5" y2="1385.4" stroke="#404040" stroke-width="1"/>
<polyline fill="none" stroke="#000" stroke-width="1.12" points="156.3,1182.0 177.5,1234.4 198.7,1309.0 219.9,1252.2 241.1,1204.0 262.3,1253.6"/>
<circle cx="156.3" cy="1182" r="7.2" fill="#fff" stroke="#000" stroke-width="1.12"/>
<circle cx="177.5" cy="1234.4" r="7.2" fill="#fff" stroke="#000" stroke-width="1.12"/>
<circle cx="198.7" cy="1309" r="7.2" fill="#fff" stroke="#000" stroke-width="1.12"/>
<circle cx="219.9" cy="1252.2" r="7.2" fill="#fff" stroke="#000" stroke-width="1.12"/>
<circle cx="241.1" cy="1204" r="7.2" fill="#fff" stroke="#000" stroke-width="1.12"/>
<circle cx="262.3" cy="1253.6" r="7.2" fill="#fff" stroke="#000" stroke-width="1.12"/>
<polyline fill="none" stroke="#000" stroke-width="1.12" points="304.8,1263.9 326.0,1267.8 347.2,1059.2 368.4,1132.4 389.6,1052.4 410.8,1227.5 432.0,1268.3 453.2,1271.5 474.4,1267.8 495.6,1214.7 516.8,1183.7 538.0,1170.5 559.2,1269.8 580.4,1254.6 601.6,1244.4 622.8,1227.5 644.0,1280.0 665.2,1308.8 686.4,1317.6 707.6,1327.5 728.8,1296.6 750.0,1336.8 771.2,1274.9 792.4,1313.9"/>
<circle cx="304.8" cy="1263.9" r="7.2" fill="#fff" stroke="#000" stroke-width="1.12"/>
<circle cx="326.0" cy="1267.8" r="7.2" fill="#fff" stroke="#000" stroke-width="1.12"/>
<circle cx="347.2" cy="1059.2" r="7.2" fill="#fff" stroke="#000" stroke-width="1.12"/>
<circle cx="368.4" cy="1132.4" r="7.2" fill="#fff" stroke="#000" stroke-width="1.12"/>
<circle cx="389.6" cy="1052.4" r="7.2" fill="#fff" stroke="#000" stroke-width="1.12"/>
<circle cx="410.8" cy="1227.5" r="7.2" fill="#fff" stroke="#000" stroke-width="1.12"/>
<circle cx="432.0" cy="1268.3" r="7.2" fill="#fff" stroke="#000" stroke-width="1.12"/>
<circle cx="453.2" cy="1271.5" r="7.2" fill="#fff" stroke="#000" stroke-width="1.12"/>
<circle cx="474.4" cy="1267.8" r="7.2" fill="#fff" stroke="#000" stroke-width="1.12"/>
<circle cx="495.6" cy="1214.7" r="7.2" fill="#fff" stroke="#000" stroke-width="1.12"/>
<circle cx="516.8" cy="1183.7" r="7.2" fill="#fff" stroke="#000" stroke-width="1.12"/>
<circle cx="538.0" cy="1170.5" r="7.2" fill="#fff" stroke="#000" stroke-width="1.12"/>
<circle cx="559.2" cy="1269.8" r="7.2" fill="#fff" stroke="#000" stroke-width="1.12"/>
<circle cx="580.4" cy="1254.6" r="7.2" fill="#fff" stroke="#000" stroke-width="1.12"/>
<circle cx="601.6" cy="1244.4" r="7.2" fill="#fff" stroke="#000" stroke-width="1.12"/>
<circle cx="622.8" cy="1227.5" r="7.2" fill="#fff" stroke="#000" stroke-width="1.12"/>
<circle cx="644.0" cy="1280" r="7.2" fill="#fff" stroke="#000" stroke-width="1.12"/>
<circle cx="665.2" cy="1308.8" r="7.2" fill="#fff" stroke="#000" stroke-width="1.12"/>
<circle cx="686.4" cy="1317.6" r="7.2" fill="#fff" stroke="#000" stroke-width="1.12"/>
<circle cx="707.6" cy="1327.5" r="7.2" fill="#fff" stroke="#000" stroke-width="1.12"/>
<circle cx="728.8" cy="1296.6" r="7.2" fill="#fff" stroke="#000" stroke-width="1.12"/>
<circle cx="750.0" cy="1336.8" r="7.2" fill="#fff" stroke="#000" stroke-width="1.12"/>
<circle cx="771.2" cy="1274.9" r="7.2" fill="#fff" stroke="#000" stroke-width="1.12"/>
<circle cx="792.4" cy="1313.9" r="7.2" fill="#fff" stroke="#000" stroke-width="1.12"/>
<polyline fill="none" stroke="#000" stroke-width="1.12" points="156.3,1199.0 177.5,1258.0 198.7,1292.0 219.9,1210.8 241.1,1299.7 262.3,1177.0"/>
<rect x="150.0" y="1192.7" width="12.6" height="12.6" fill="#fff" stroke="#000" stroke-width="1.12"/>
<rect x="171.2" y="1251.7" width="12.6" height="12.6" fill="#fff" stroke="#000" stroke-width="1.12"/>
<rect x="192.4" y="1285.7" width="12.6" height="12.6" fill="#fff" stroke="#000" stroke-width="1.12"/>
<rect x="213.6" y="1204.5" width="12.6" height="12.6" fill="#fff" stroke="#000" stroke-width="1.12"/>
<rect x="234.8" y="1293.4" width="12.6" height="12.6" fill="#fff" stroke="#000" stroke-width="1.12"/>
<rect x="256.0" y="1170.7" width="12.6" height="12.6" fill="#fff" stroke="#000" stroke-width="1.12"/>
<polyline fill="none" stroke="#000" stroke-width="1.12" points="304.8,1122.7 326.0,1250.3 347.2,1210.5 368.4,1316.4 389.6,1323.2 410.8,1256.6 432.0,1354.6 453.2,1338.0 474.4,1348.0 495.6,1342.7 516.8,1359.7 538.0,1349.5 559.2,1365.6 580.4,1339.3 601.6,1324.6 622.8,1367.3 644.0,1329.7 665.2,1352.5 686.4,1353.7 707.6,1340.2 728.8,1353.7 750.0,1349.5 771.2,1313.9 792.4,1318.1"/>
<rect x="298.5" y="1116.4" width="12.6" height="12.6" fill="#fff" stroke="#000" stroke-width="1.12"/>
<rect x="319.7" y="1244.0" width="12.6" height="12.6" fill="#fff" stroke="#000" stroke-width="1.12"/>
<rect x="340.9" y="1204.2" width="12.6" height="12.6" fill="#fff" stroke="#000" stroke-width="1.12"/>
<rect x="362.1" y="1310.1" width="12.6" height="12.6" fill="#fff" stroke="#000" stroke-width="1.12"/>
<rect x="383.3" y="1316.9" width="12.6" height="12.6" fill="#fff" stroke="#000" stroke-width="1.12"/>
<rect x="404.5" y="1250.3" width="12.6" height="12.6" fill="#fff" stroke="#000" stroke-width="1.12"/>
<rect x="425.7" y="1348.3" width="12.6" height="12.6" fill="#fff" stroke="#000" stroke-width="1.12"/>
<rect x="446.9" y="1331.7" width="12.6" height="12.6" fill="#fff" stroke="#000" stroke-width="1.12"/>
<rect x="468.1" y="1341.7" width="12.6" height="12.6" fill="#fff" stroke="#000" stroke-width="1.12"/>
<rect x="489.3" y="1336.4" width="12.6" height="12.6" fill="#fff" stroke="#000" stroke-width="1.12"/>
<rect x="510.5" y="1353.4" width="12.6" height="12.6" fill="#fff" stroke="#000" stroke-width="1.12"/>
<rect x="531.7" y="1343.2" width="12.6" height="12.6" fill="#fff" stroke="#000" stroke-width="1.12"/>
<rect x="552.9" y="1359.3" width="12.6" height="12.6" fill="#fff" stroke="#000" stroke-width="1.12"/>
<rect x="574.1" y="1333.0" width="12.6" height="12.6" fill="#fff" stroke="#000" stroke-width="1.12"/>
<rect x="595.3" y="1318.3" width="12.6" height="12.6" fill="#fff" stroke="#000" stroke-width="1.12"/>
<rect x="616.5" y="1361.0" width="12.6" height="12.6" fill="#fff" stroke="#000" stroke-width="1.12"/>
<rect x="637.7" y="1323.4" width="12.6" height="12.6" fill="#fff" stroke="#000" stroke-width="1.12"/>
<rect x="658.9" y="1346.2" width="12.6" height="12.6" fill="#fff" stroke="#000" stroke-width="1.12"/>
<rect x="680.1" y="1347.4" width="12.6" height="12.6" fill="#fff" stroke="#000" stroke-width="1.12"/>
<rect x="701.3" y="1333.9" width="12.6" height="12.6" fill="#fff" stroke="#000" stroke-width="1.12"/>
<rect x="722.5" y="1347.4" width="12.6" height="12.6" fill="#fff" stroke="#000" stroke-width="1.12"/>
<rect x="743.7" y="1343.2" width="12.6" height="12.6" fill="#fff" stroke="#000" stroke-width="1.12"/>
<rect x="764.9" y="1307.6" width="12.6" height="12.6" fill="#fff" stroke="#000" stroke-width="1.12"/>
<rect x="786.1" y="1311.8" width="12.6" height="12.6" fill="#fff" stroke="#000" stroke-width="1.12"/>
<polyline fill="none" stroke="#000" stroke-width="1.12" points="156.3,1312.4 177.5,1133.2 198.7,1309.0 219.9,1249.7 241.1,1299.7 262.3,1124.0"/>
<path d="M156.3 1302.8L163.6 1312.4L156.3 1322.0L149.0 1312.4Z" fill="#fff" stroke="#000" stroke-width="1.12"/>
<path d="M177.5 1123.6L184.8 1133.2L177.5 1142.8L170.2 1133.2Z" fill="#fff" stroke="#000" stroke-width="1.12"/>
<path d="M198.7 1299.4L206.0 1309L198.7 1318.6L191.4 1309Z" fill="#fff" stroke="#000" stroke-width="1.12"/>
<path d="M219.9 1240.1L227.2 1249.7L219.9 1259.3L212.6 1249.7Z" fill="#fff" stroke="#000" stroke-width="1.12"/>
<path d="M241.1 1290.1L248.4 1299.7L241.1 1309.3L233.8 1299.7Z" fill="#fff" stroke="#000" stroke-width="1.12"/>
<path d="M262.3 1114.4L269.6 1124L262.3 1133.6L255.0 1124Z" fill="#fff" stroke="#000" stroke-width="1.12"/>
<polyline fill="none" stroke="#000" stroke-width="1.12" points="304.8,1248.6 326.0,1250.3 347.2,1210.5 368.4,1286.8 389.6,1264.4 410.8,1272.9 432.0,1217.6 453.2,1293.2 474.4,1096.9 495.6,932.0 516.8,932.0 538.0,1198.6 559.2,1350.0 580.4,1310.5 601.6,1280.0 622.8,1146.1 644.0,1261.4 665.2,1180.5 686.4,1271.5 707.6,1185.8 728.8,1235.1 750.0,1158.3 771.2,1283.4 792.4,1284.2"/>
<path d="M304.8 1239.0L312.1 1248.6L304.8 1258.2L297.5 1248.6Z" fill="#fff" stroke="#000" stroke-width="1.12"/>
<path d="M326.0 1240.7L333.3 1250.3L326.0 1259.9L318.7 1250.3Z" fill="#fff" stroke="#000" stroke-width="1.12"/>
<path d="M347.2 1200.9L354.5 1210.5L347.2 1220.1L339.9 1210.5Z" fill="#fff" stroke="#000" stroke-width="1.12"/>
<path d="M368.4 1277.2L375.7 1286.8L368.4 1296.4L361.1 1286.8Z" fill="#fff" stroke="#000" stroke-width="1.12"/>
<path d="M389.6 1254.8L396.9 1264.4L389.6 1274.0L382.3 1264.4Z" fill="#fff" stroke="#000" stroke-width="1.12"/>
<path d="M410.8 1263.3L418.1 1272.9L410.8 1282.5L403.5 1272.9Z" fill="#fff" stroke="#000" stroke-width="1.12"/>
<path d="M432.0 1208.0L439.3 1217.6L432.0 1227.2L424.7 1217.6Z" fill="#fff" stroke="#000" stroke-width="1.12"/>
<path d="M453.2 1283.6L460.5 1293.2L453.2 1302.8L445.9 1293.2Z" fill="#fff" stroke="#000" stroke-width="1.12"/>
<path d="M474.4 1087.3L481.7 1096.9L474.4 1106.5L467.1 1096.9Z" fill="#fff" stroke="#000" stroke-width="1.12"/>
<path d="M495.6 922.4L502.9 932L495.6 941.6L488.3 932Z" fill="#fff" stroke="#000" stroke-width="1.12"/>
<path d="M516.8 922.4L524.1 932L516.8 941.6L509.5 932Z" fill="#fff" stroke="#000" stroke-width="1.12"/>
<path d="M538.0 1189.0L545.3 1198.6L538.0 1208.2L530.7 1198.6Z" fill="#fff" stroke="#000" stroke-width="1.12"/>
<path d="M559.2 1340.4L566.5 1350L559.2 1359.6L551.9 1350Z" fill="#fff" stroke="#000" stroke-width="1.12"/>
<path d="M580.4 1300.9L587.7 1310.5L580.4 1320.1L573.1 1310.5Z" fill="#fff" stroke="#000" stroke-width="1.12"/>
<path d="M601.6 1270.4L608.9 1280L601.6 1289.6L594.3 1280Z" fill="#fff" stroke="#000" stroke-width="1.12"/>
<path d="M622.8 1136.5L630.1 1146.1L622.8 1155.7L615.5 1146.1Z" fill="#fff" stroke="#000" stroke-width="1.12"/>
<path d="M644.0 1251.8L651.3 1261.4L644.0 1271.0L636.7 1261.4Z" fill="#fff" stroke="#000" stroke-width="1.12"/>
<path d="M665.2 1170.9L672.5 1180.5L665.2 1190.1L657.9 1180.5Z" fill="#fff" stroke="#000" stroke-width="1.12"/>
<path d="M686.4 1261.9L693.7 1271.5L686.4 1281.1L679.1 1271.5Z" fill="#fff" stroke="#000" stroke-width="1.12"/>
<path d="M707.6 1176.2L714.9 1185.8L707.6 1195.4L700.3 1185.8Z" fill="#fff" stroke="#000" stroke-width="1.12"/>
<path d="M728.8 1225.5L736.1 1235.1L728.8 1244.7L721.5 1235.1Z" fill="#fff" stroke="#000" stroke-width="1.12"/>
<path d="M750.0 1148.7L757.3 1158.3L750.0 1167.9L742.7 1158.3Z" fill="#fff" stroke="#000" stroke-width="1.12"/>
<path d="M771.2 1273.8L778.5 1283.4L771.2 1293.0L763.9 1283.4Z" fill="#fff" stroke="#000" stroke-width="1.12"/>
<path d="M792.4 1274.6L799.7 1284.2L792.4 1293.8L785.1 1284.2Z" fill="#fff" stroke="#000" stroke-width="1.12"/>
<polyline fill="none" stroke="#000" stroke-width="1.12" points="156.3,1281.9 177.5,1180.0 198.7,1270.8 219.9,1313.2 241.1,1239.5 262.3,1147.8"/>
<path d="M148.7 1281.9H163.9M156.3 1274.3V1289.5M150.9 1276.5L161.7 1287.3M150.9 1287.3L161.7 1276.5" fill="none" stroke="#000" stroke-width="1.12"/>
<path d="M169.9 1180H185.1M177.5 1172.4V1187.6M172.1 1174.6L182.9 1185.4M172.1 1185.4L182.9 1174.6" fill="none" stroke="#000" stroke-width="1.12"/>
<path d="M191.1 1270.8H206.3M198.7 1263.2V1278.4M193.3 1265.4L204.1 1276.2M193.3 1276.2L204.1 1265.4" fill="none" stroke="#000" stroke-width="1.12"/>
<path d="M212.3 1313.2H227.5M219.9 1305.6V1320.8M214.5 1307.8L225.3 1318.6M214.5 1318.6L225.3 1307.8" fill="none" stroke="#000" stroke-width="1.12"/>
<path d="M233.5 1239.5H248.7M241.1 1231.9V1247.1M235.7 1234.1L246.5 1244.9M235.7 1244.9L246.5 1234.1" fill="none" stroke="#000" stroke-width="1.12"/>
<path d="M254.7 1147.8H269.9M262.3 1140.2V1155.4M256.9 1142.4L267.7 1153.2M256.9 1153.2L267.7 1142.4" fill="none" stroke="#000" stroke-width="1.12"/>
<polyline fill="none" stroke="#000" stroke-width="1.12" points="304.8,1243.6 326.0,977.8 347.2,1291.9 368.4,1296.6 389.6,1298.6 410.8,1301.2 432.0,1168.5 453.2,1254.6 474.4,1258.3 495.6,1314.0 516.8,1206.8 538.0,1281.7 559.2,1132.6 580.4,1014.4 601.6,1185.3 622.8,1268.0 644.0,1097.3 665.2,1161.7 686.4,1208.0 707.6,1259.7 728.8,1243.2 750.0,1078.6 771.2,1283.4 792.4,1276.6"/>
<path d="M297.2 1243.6H312.4M304.8 1236.0V1251.2M299.4 1238.2L310.2 1249.0M299.4 1249.0L310.2 1238.2" fill="none" stroke="#000" stroke-width="1.12"/>
<path d="M318.4 977.8H333.6M326.0 970.2V985.4M320.6 972.4L331.4 983.2M320.6 983.2L331.4 972.4" fill="none" stroke="#000" stroke-width="1.12"/>
<path d="M339.6 1291.9H354.8M347.2 1284.3V1299.5M341.8 1286.5L352.6 1297.3M341.8 1297.3L352.6 1286.5" fill="none" stroke="#000" stroke-width="1.12"/>
<path d="M360.8 1296.6H376.0M368.4 1289.0V1304.2M363.0 1291.2L373.8 1302.0M363.0 1302.0L373.8 1291.2" fill="none" stroke="#000" stroke-width="1.12"/>
<path d="M382.0 1298.6H397.2M389.6 1291.0V1306.2M384.2 1293.2L395.0 1304.0M384.2 1304.0L395.0 1293.2" fill="none" stroke="#000" stroke-width="1.12"/>
<path d="M403.2 1301.2H418.4M410.8 1293.6V1308.8M405.4 1295.8L416.2 1306.6M405.4 1306.6L416.2 1295.8" fill="none" stroke="#000" stroke-width="1.12"/>
<path d="M424.4 1168.5H439.6M432.0 1160.9V1176.1M426.6 1163.1L437.4 1173.9M426.6 1173.9L437.4 1163.1" fill="none" stroke="#000" stroke-width="1.12"/>
<path d="M445.6 1254.6H460.8M453.2 1247.0V1262.2M447.8 1249.2L458.6 1260.0M447.8 1260.0L458.6 1249.2" fill="none" stroke="#000" stroke-width="1.12"/>
<path d="M466.8 1258.3H482.0M474.4 1250.7V1265.9M469.0 1252.9L479.8 1263.7M469.0 1263.7L479.8 1252.9" fill="none" stroke="#000" stroke-width="1.12"/>
<path d="M488.0 1314H503.2M495.6 1306.4V1321.6M490.2 1308.6L501.0 1319.4M490.2 1319.4L501.0 1308.6" fill="none" stroke="#000" stroke-width="1.12"/>
<path d="M509.2 1206.8H524.4M516.8 1199.2V1214.4M511.4 1201.4L522.2 1212.2M511.4 1212.2L522.2 1201.4" fill="none" stroke="#000" stroke-width="1.12"/>
<path d="M530.4 1281.7H545.6M538.0 1274.1V1289.3M532.6 1276.3L543.4 1287.1M532.6 1287.1L543.4 1276.3" fill="none" stroke="#000" stroke-width="1.12"/>
<path d="M551.6 1132.6H566.8M559.2 1125.0V1140.2M553.8 1127.2L564.6 1138.0M553.8 1138.0L564.6 1127.2" fill="none" stroke="#000" stroke-width="1.12"/>
<path d="M572.8 1014.4H588.0M580.4 1006.8V1022.0M575.0 1009.0L585.8 1019.8M575.0 1019.8L585.8 1009.0" fill="none" stroke="#000" stroke-width="1.12"/>
<path d="M594.0 1185.3H609.2M601.6 1177.7V1192.9M596.2 1179.9L607.0 1190.7M596.2 1190.7L607.0 1179.9" fill="none" stroke="#000" stroke-width="1.12"/>
<path d="M615.2 1268H630.4M622.8 1260.4V1275.6M617.4 1262.6L628.2 1273.4M617.4 1273.4L628.2 1262.6" fill="none" stroke="#000" stroke-width="1.12"/>
<path d="M636.4 1097.3H651.6M644.0 1089.7V1104.9M638.6 1091.9L649.4 1102.7M638.6 1102.7L649.4 1091.9" fill="none" stroke="#000" stroke-width="1.12"/>
<path d="M657.6 1161.7H672.8M665.2 1154.1V1169.3M659.8 1156.3L670.6 1167.1M659.8 1167.1L670.6 1156.3" fill="none" stroke="#000" stroke-width="1.12"/>
<path d="M678.8 1208H694.0M686.4 1200.4V1215.6M681.0 1202.6L691.8 1213.4M681.0 1213.4L691.8 1202.6" fill="none" stroke="#000" stroke-width="1.12"/>
<path d="M700.0 1259.7H715.2M707.6 1252.1V1267.3M702.2 1254.3L713.0 1265.1M702.2 1265.1L713.0 1254.3" fill="none" stroke="#000" stroke-width="1.12"/>
<path d="M721.2 1243.2H736.4M728.8 1235.6V1250.8M723.4 1237.8L734.2 1248.6M723.4 1248.6L734.2 1237.8" fill="none" stroke="#000" stroke-width="1.12"/>
<path d="M742.4 1078.6H757.6M750.0 1071.0V1086.2M744.6 1073.2L755.4 1084.0M744.6 1084.0L755.4 1073.2" fill="none" stroke="#000" stroke-width="1.12"/>
<path d="M763.6 1283.4H778.8M771.2 1275.8V1291.0M765.8 1278.0L776.6 1288.8M765.8 1288.8L776.6 1278.0" fill="none" stroke="#000" stroke-width="1.12"/>
<path d="M784.8 1276.6H800.0M792.4 1269.0V1284.2M787.0 1271.2L797.8 1282.0M787.0 1282.0L797.8 1271.2" fill="none" stroke="#000" stroke-width="1.12"/>
<polyline fill="none" stroke="#000" stroke-width="1.12" points="156.3,1247.2 177.5,1250.0 198.7,1185.0 219.9,1201.5 241.1,1298.0 262.3,1253.0"/>
<path d="M148.7 1247.2H163.9M156.3 1239.6V1254.8" fill="none" stroke="#000" stroke-width="1.12"/>
<path d="M169.9 1250H185.1M177.5 1242.4V1257.6" fill="none" stroke="#000" stroke-width="1.12"/>
<path d="M191.1 1185H206.3M198.7 1177.4V1192.6" fill="none" stroke="#000" stroke-width="1.12"/>
<path d="M212.3 1201.5H227.5M219.9 1193.9V1209.1" fill="none" stroke="#000" stroke-width="1.12"/>
<path d="M233.5 1298H248.7M241.1 1290.4V1305.6" fill="none" stroke="#000" stroke-width="1.12"/>
<path d="M254.7 1253H269.9M262.3 1245.4V1260.6" fill="none" stroke="#000" stroke-width="1.12"/>
<polyline fill="none" stroke="#000" stroke-width="1.12" points="304.8,1244.4 326.0,1264.3 347.2,1260.0 368.4,1310.5 389.6,1323.2 410.8,1313.0 432.0,1352.9 453.2,1254.6 474.4,1288.5 495.6,1280.0"/>
<path d="M297.2 1244.4H312.4M304.8 1236.8V1252.0" fill="none" stroke="#000" stroke-width="1.12"/>
<path d="M318.4 1264.3H333.6M326.0 1256.7V1271.9" fill="none" stroke="#000" stroke-width="1.12"/>
<path d="M339.6 1260H354.8M347.2 1252.4V1267.6" fill="none" stroke="#000" stroke-width="1.12"/>
<path d="M360.8 1310.5H376.0M368.4 1302.9V1318.1" fill="none" stroke="#000" stroke-width="1.12"/>
<path d="M382.0 1323.2H397.2M389.6 1315.6V1330.8" fill="none" stroke="#000" stroke-width="1.12"/>
<path d="M403.2 1313H418.4M410.8 1305.4V1320.6" fill="none" stroke="#000" stroke-width="1.12"/>
<path d="M424.4 1352.9H439.6M432.0 1345.3V1360.5" fill="none" stroke="#000" stroke-width="1.12"/>
<path d="M445.6 1254.6H460.8M453.2 1247.0V1262.2" fill="none" stroke="#000" stroke-width="1.12"/>
<path d="M466.8 1288.5H482.0M474.4 1280.9V1296.1" fill="none" stroke="#000" stroke-width="1.12"/>
<path d="M488.0 1280H503.2M495.6 1272.4V1287.6" fill="none" stroke="#000" stroke-width="1.12"/>
<polyline fill="none" stroke="#000" stroke-width="1.12" points="156.3,1235.0 177.5,1259.3 198.7,1283.0 219.9,1209.7 241.1,1225.0 262.3,1238.5"/>
<path d="M146.3 1226.4H166.3L156.3 1243.6Z" fill="#000" stroke="#000" stroke-width="0.6"/>
<path d="M167.5 1250.7H187.5L177.5 1267.9Z" fill="#000" stroke="#000" stroke-width="0.6"/>
<path d="M188.7 1274.4H208.7L198.7 1291.6Z" fill="#000" stroke="#000" stroke-width="0.6"/>
<path d="M209.9 1201.1H229.9L219.9 1218.3Z" fill="#000" stroke="#000" stroke-width="0.6"/>
<path d="M231.1 1216.4H251.1L241.1 1233.6Z" fill="#000" stroke="#000" stroke-width="0.6"/>
<path d="M252.3 1229.9H272.3L262.3 1247.1Z" fill="#000" stroke="#000" stroke-width="0.6"/>
<polyline fill="none" stroke="#000" stroke-width="1.12" points="304.8,1211.4 326.0,1194.9 347.2,1263.0 368.4,1349.5 389.6,1233.7 410.8,1236.8 432.0,1353.2 453.2,1313.0 474.4,1353.7 495.6,1317.6 516.8,1271.9 538.0,1293.6 559.2,1330.0 580.4,1352.7 601.6,1374.2 622.8,1280.0 644.0,1290.2 665.2,1233.4 686.4,1297.8 707.6,1266.4 728.8,1286.4 750.0,1357.5 771.2,1269.8 792.4,1286.6"/>
<path d="M294.8 1202.8H314.8L304.8 1220.0Z" fill="#000" stroke="#000" stroke-width="0.6"/>
<path d="M316.0 1186.3H336.0L326.0 1203.5Z" fill="#000" stroke="#000" stroke-width="0.6"/>
<path d="M337.2 1254.4H357.2L347.2 1271.6Z" fill="#000" stroke="#000" stroke-width="0.6"/>
<path d="M358.4 1340.9H378.4L368.4 1358.1Z" fill="#000" stroke="#000" stroke-width="0.6"/>
<path d="M379.6 1225.1H399.6L389.6 1242.3Z" fill="#000" stroke="#000" stroke-width="0.6"/>
<path d="M400.8 1228.2H420.8L410.8 1245.4Z" fill="#000" stroke="#000" stroke-width="0.6"/>
<path d="M422.0 1344.6H442.0L432.0 1361.8Z" fill="#000" stroke="#000" stroke-width="0.6"/>
<path d="M443.2 1304.4H463.2L453.2 1321.6Z" fill="#000" stroke="#000" stroke-width="0.6"/>
<path d="M464.4 1345.1H484.4L474.4 1362.3Z" fill="#000" stroke="#000" stroke-width="0.6"/>
<path d="M485.6 1309.0H505.6L495.6 1326.2Z" fill="#000" stroke="#000" stroke-width="0.6"/>
<path d="M506.8 1263.3H526.8L516.8 1280.5Z" fill="#000" stroke="#000" stroke-width="0.6"/>
<path d="M528.0 1285.0H548.0L538.0 1302.2Z" fill="#000" stroke="#000" stroke-width="0.6"/>
<path d="M549.2 1321.4H569.2L559.2 1338.6Z" fill="#000" stroke="#000" stroke-width="0.6"/>
<path d="M570.4 1344.1H590.4L580.4 1361.3Z" fill="#000" stroke="#000" stroke-width="0.6"/>
<path d="M591.6 1365.6H611.6L601.6 1382.8Z" fill="#000" stroke="#000" stroke-width="0.6"/>
<path d="M612.8 1271.4H632.8L622.8 1288.6Z" fill="#000" stroke="#000" stroke-width="0.6"/>
<path d="M634.0 1281.6H654.0L644.0 1298.8Z" fill="#000" stroke="#000" stroke-width="0.6"/>
<path d="M655.2 1224.8H675.2L665.2 1242.0Z" fill="#000" stroke="#000" stroke-width="0.6"/>
<path d="M676.4 1289.2H696.4L686.4 1306.4Z" fill="#000" stroke="#000" stroke-width="0.6"/>
<path d="M697.6 1257.8H717.6L707.6 1275.0Z" fill="#000" stroke="#000" stroke-width="0.6"/>
<path d="M718.8 1277.8H738.8L728.8 1295.0Z" fill="#000" stroke="#000" stroke-width="0.6"/>
<path d="M740.0 1348.9H760.0L750.0 1366.1Z" fill="#000" stroke="#000" stroke-width="0.6"/>
<path d="M761.2 1261.2H781.2L771.2 1278.4Z" fill="#000" stroke="#000" stroke-width="0.6"/>
<path d="M782.4 1278.0H802.4L792.4 1295.2Z" fill="#000" stroke="#000" stroke-width="0.6"/>
<polyline fill="none" stroke="#808080" stroke-width="1.1" points="156.3,1352.4 177.5,1290.3 198.7,1199.5 219.9,1102.5 241.1,1315.3 262.3,1191.4"/>
<path d="M146.3 1343.8H166.3L156.3 1361.0Z" fill="#808080" stroke="#808080" stroke-width="0.6"/>
<path d="M167.5 1281.7H187.5L177.5 1298.9Z" fill="#808080" stroke="#808080" stroke-width="0.6"/>
<path d="M188.7 1190.9H208.7L198.7 1208.1Z" fill="#808080" stroke="#808080" stroke-width="0.6"/>
<path d="M209.9 1093.9H229.9L219.9 1111.1Z" fill="#808080" stroke="#808080" stroke-width="0.6"/>
<path d="M231.1 1306.7H251.1L241.1 1323.9Z" fill="#808080" stroke="#808080" stroke-width="0.6"/>
<path d="M252.3 1182.8H272.3L262.3 1200.0Z" fill="#808080" stroke="#808080" stroke-width="0.6"/>
<polyline fill="none" stroke="#808080" stroke-width="1.1" points="304.8,1333.9 326.0,1330.0 347.2,1351.7 368.4,1351.0 389.6,1351.7 410.8,1355.9 432.0,1371.5 453.2,1361.7 474.4,1363.0 495.6,1366.0 516.8,1367.3 538.0,1360.0 559.2,1353.3 580.4,1368.0 601.6,1365.6 622.8,1371.2 644.0,1362.7 665.2,1370.7 686.4,1371.5 707.6,1366.8 728.8,1374.0 750.0,1377.5 771.2,1374.0 792.4,1374.0"/>
<path d="M294.8 1325.3H314.8L304.8 1342.5Z" fill="#808080" stroke="#808080" stroke-width="0.6"/>
<path d="M316.0 1321.4H336.0L326.0 1338.6Z" fill="#808080" stroke="#808080" stroke-width="0.6"/>
<path d="M337.2 1343.1H357.2L347.2 1360.3Z" fill="#808080" stroke="#808080" stroke-width="0.6"/>
<path d="M358.4 1342.4H378.4L368.4 1359.6Z" fill="#808080" stroke="#808080" stroke-width="0.6"/>
<path d="M379.6 1343.1H399.6L389.6 1360.3Z" fill="#808080" stroke="#808080" stroke-width="0.6"/>
<path d="M400.8 1347.3H420.8L410.8 1364.5Z" fill="#808080" stroke="#808080" stroke-width="0.6"/>
<path d="M422.0 1362.9H442.0L432.0 1380.1Z" fill="#808080" stroke="#808080" stroke-width="0.6"/>
<path d="M443.2 1353.1H463.2L453.2 1370.3Z" fill="#808080" stroke="#808080" stroke-width="0.6"/>
<path d="M464.4 1354.4H484.4L474.4 1371.6Z" fill="#808080" stroke="#808080" stroke-width="0.6"/>
<path d="M485.6 1357.4H505.6L495.6 1374.6Z" fill="#808080" stroke="#808080" stroke-width="0.6"/>
<path d="M506.8 1358.7H526.8L516.8 1375.9Z" fill="#808080" stroke="#808080" stroke-width="0.6"/>
<path d="M528.0 1351.4H548.0L538.0 1368.6Z" fill="#808080" stroke="#808080" stroke-width="0.6"/>
<path d="M549.2 1344.7H569.2L559.2 1361.9Z" fill="#808080" stroke="#808080" stroke-width="0.6"/>
<path d="M570.4 1359.4H590.4L580.4 1376.6Z" fill="#808080" stroke="#808080" stroke-width="0.6"/>
<path d="M591.6 1357.0H611.6L601.6 1374.2Z" fill="#808080" stroke="#808080" stroke-width="0.6"/>
<path d="M612.8 1362.6H632.8L622.8 1379.8Z" fill="#808080" stroke="#808080" stroke-width="0.6"/>
<path d="M634.0 1354.1H654.0L644.0 1371.3Z" fill="#808080" stroke="#808080" stroke-width="0.6"/>
<path d="M655.2 1362.1H675.2L665.2 1379.3Z" fill="#808080" stroke="#808080" stroke-width="0.6"/>
<path d="M676.4 1362.9H696.4L686.4 1380.1Z" fill="#808080" stroke="#808080" stroke-width="0.6"/>
<path d="M697.6 1358.2H717.6L707.6 1375.4Z" fill="#808080" stroke="#808080" stroke-width="0.6"/>
<path d="M718.8 1365.4H738.8L728.8 1382.6Z" fill="#808080" stroke="#808080" stroke-width="0.6"/>
<path d="M740.0 1368.9H760.0L750.0 1386.1Z" fill="#808080" stroke="#808080" stroke-width="0.6"/>
<path d="M761.2 1365.4H781.2L771.2 1382.6Z" fill="#808080" stroke="#808080" stroke-width="0.6"/>
<path d="M782.4 1365.4H802.4L792.4 1382.6Z" fill="#808080" stroke="#808080" stroke-width="0.6"/>
<line x1="156.3" y1="1239.3" x2="792.4" y2="1239.3" stroke="#0a0ae0" stroke-width="1.3" stroke-dasharray="15 10"/>
<rect x="134.3" y="855.2" width="126.4" height="537.2" fill="rgb(215,215,215)" fill-opacity="0.5"/>
<line x1="134.3" y1="1392.4" x2="141.3" y2="1392.4" stroke="#404040" stroke-width="1.1"/>
<text x="123.1" y="1405.0" text-anchor="end" font-size="32.3" fill="#262626">0</text>
<line x1="134.3" y1="1315.8" x2="141.3" y2="1315.8" stroke="#404040" stroke-width="1.1"/>
<text x="123.1" y="1328.4" text-anchor="end" font-size="32.3" fill="#262626">50</text>
<line x1="134.3" y1="1239.3" x2="141.3" y2="1239.3" stroke="#404040" stroke-width="1.1"/>
<text x="123.1" y="1251.9" text-anchor="end" font-size="32.3" fill="#262626">100</text>
<line x1="134.3" y1="1162.7" x2="141.3" y2="1162.7" stroke="#404040" stroke-width="1.1"/>
<text x="123.1" y="1175.3" text-anchor="end" font-size="32.3" fill="#262626">150</text>
<line x1="134.3" y1="1086.1" x2="141.3" y2="1086.1" stroke="#404040" stroke-width="1.1"/>
<text x="123.1" y="1098.7" text-anchor="end" font-size="32.3" fill="#262626">200</text>
<line x1="134.3" y1="1009.6" x2="141.3" y2="1009.6" stroke="#404040" stroke-width="1.1"/>
<text x="123.1" y="1022.2" text-anchor="end" font-size="32.3" fill="#262626">250</text>
<line x1="134.3" y1="933.0" x2="141.3" y2="933.0" stroke="#404040" stroke-width="1.1"/>
<text x="123.1" y="945.6" text-anchor="end" font-size="32.3" fill="#262626">300</text>
<line x1="134.3" y1="856.4" x2="141.3" y2="856.4" stroke="#404040" stroke-width="1.1"/>
<text x="123.1" y="869.0" text-anchor="end" font-size="32.3" fill="#262626">350</text>
<text x="134.3" y="1436.3" text-anchor="middle" font-size="32.3" fill="#262626">0</text>
<text x="240.6" y="1436.3" text-anchor="middle" font-size="32.3" fill="#262626">5</text>
<text x="368.4" y="1436.3" text-anchor="middle" font-size="32.3" fill="#262626">10</text>
<text x="474.4" y="1436.3" text-anchor="middle" font-size="32.3" fill="#262626">15</text>
<text x="580.4" y="1436.3" text-anchor="middle" font-size="32.3" fill="#262626">20</text>
<text x="686.5" y="1436.3" text-anchor="middle" font-size="32.3" fill="#262626">25</text>
<text x="792.5" y="1436.3" text-anchor="middle" font-size="32.3" fill="#262626">30</text>
<path d="M134.60000000000002 855.2H260.7V1392.4H134.60000000000002" fill="none" stroke="#7a7a7a" stroke-width="3" stroke-dasharray="8.5 4.2"/>
<path d="M134.5 1392.4V855.2" fill="none" stroke="#7a7a7a" stroke-width="2.8" stroke-dasharray="10 2.4"/>
<path d="M212.8 898.9V868.6H735.6V1041" stroke="#000" stroke-width="4.4" fill="none" stroke-linejoin="miter"/><path d="M149.2 922.7V898.9H258.5V922.7" stroke="#000" stroke-width="4.4" fill="none" stroke-linejoin="miter"/><path d="M678 1064.2V1041H793.4V1064.2" stroke="#000" stroke-width="4.4" fill="none" stroke-linejoin="miter"/>
<text x="143.57" y="802.7" font-size="36.8" font-weight="bold" fill="#000" textLength="39.57" lengthAdjust="spacingAndGlyphs">VL</text><text x="194.06" y="802.7" font-size="36.8" font-weight="bold" fill="#000" textLength="134.66" lengthAdjust="spacingAndGlyphs">H-reflex</text><text x="340.47" y="802.7" font-size="36.8" font-weight="bold" fill="#000" textLength="181.33" lengthAdjust="spacingAndGlyphs">magnitude</text><text x="535.08" y="802.7" font-size="36.8" font-weight="bold" fill="#000" textLength="75.05" lengthAdjust="spacingAndGlyphs">over</text><text x="622.44" y="802.7" font-size="36.8" font-weight="bold" fill="#000" textLength="134.81" lengthAdjust="spacingAndGlyphs">training</text><text x="28.43" y="860.2" font-size="52.5" font-weight="bold" fill="#000" textLength="30.72" lengthAdjust="spacingAndGlyphs">b</text><path d="M465.6 829.40V838.20M461.79 831.60L469.41 836.00M461.79 836.00L469.41 831.60" stroke="#000" stroke-width="2.4" stroke-linecap="round" fill="none"/><path d="M480.4 829.40V838.20M476.59 831.60L484.21 836.00M476.59 836.00L484.21 831.60" stroke="#000" stroke-width="2.4" stroke-linecap="round" fill="none"/><text x="142.69" y="973.6" font-size="28.2" font-weight="bold" fill="#000" textLength="116.25" lengthAdjust="spacingAndGlyphs">Baseline</text><text x="419.11" y="911" font-size="30" font-weight="bold" fill="#000" textLength="111.81" lengthAdjust="spacingAndGlyphs">Training</text><text x="387.99" y="1489.2" font-size="44" font-weight="bold" fill="#000" textLength="154.53" lengthAdjust="spacingAndGlyphs">Session</text><g transform="translate(41.2 0) rotate(-90)"><text x="-1302.76" y="0" font-size="46" font-weight="bold" fill="#000" textLength="163.04" lengthAdjust="spacingAndGlyphs">H-reflex</text><text x="-1126.81" y="0" font-size="46" font-weight="bold" fill="#000" textLength="51.66" lengthAdjust="spacingAndGlyphs">(%</text><text x="-1063.73" y="0" font-size="46" font-weight="bold" fill="#000" textLength="42.28" lengthAdjust="spacingAndGlyphs">M</text><text x="-1020.82" y="6.4" font-size="31" font-weight="bold" fill="#000" textLength="58.98" lengthAdjust="spacingAndGlyphs">max</text><text x="-959.38" y="0" font-size="46" font-weight="bold" fill="#000" textLength="10.94" lengthAdjust="spacingAndGlyphs">)</text></g>
<line x1="818.8" y1="866.5" x2="880.0" y2="866.5" stroke="#555" stroke-width="1.6"/>
<circle cx="849.2" cy="866.5" r="7.85" fill="#fff" stroke="#000" stroke-width="1.9"/>
<text x="897.20" y="883" font-size="34.3" font-weight="bold" fill="#000" textLength="41.73" lengthAdjust="spacingAndGlyphs">H1</text>
<line x1="818.8" y1="907.8" x2="880.0" y2="907.8" stroke="#555" stroke-width="1.6"/>
<rect x="841.35" y="900.15" width="15.7" height="15.7" fill="#fff" stroke="#000" stroke-width="1.9"/>
<text x="897.17" y="921.2" font-size="34.3" font-weight="bold" fill="#000" textLength="42.17" lengthAdjust="spacingAndGlyphs">H2</text>
<line x1="818.8" y1="945.2" x2="880.0" y2="945.2" stroke="#555" stroke-width="1.6"/>
<path d="M849.3 937.6l8 7.6l-8 7.6l-8 -7.6Z" fill="#fff" stroke="#000" stroke-width="1.9" stroke-linejoin="miter"/>
<text x="897.18" y="958" font-size="34.3" font-weight="bold" fill="#000" textLength="42.00" lengthAdjust="spacingAndGlyphs">H3</text>
<path d="M818.8 975.1h17.1" stroke="#333" stroke-width="1.2"/>
<path d="M862.8 975.4h23.1" stroke="#555" stroke-width="1.7"/>
<path d="M839.9 975.1h18.8M849.3 965.7v18.8M842.2 968.0l14.2 14.2M842.2 982.2l14.2 -14.2" stroke="#1a1a1a" stroke-width="1.25" fill="none"/>
<text x="897.24" y="989" font-size="34.3" font-weight="bold" fill="#000" textLength="40.95" lengthAdjust="spacingAndGlyphs">H4</text>
<path d="M818.8 1006.3h17.1" stroke="#333" stroke-width="1.2"/>
<path d="M862.8 1006.5999999999999h23.1" stroke="#555" stroke-width="1.7"/>
<path d="M839.6 1006.3h19" stroke="#333" stroke-width="1.2" fill="none"/>
<path d="M848.9 996.5v19.8" stroke="#444" stroke-width="1.7" fill="none"/>
<text x="897.20" y="1021.1" font-size="34.3" font-weight="bold" fill="#000" textLength="41.73" lengthAdjust="spacingAndGlyphs">H5</text>
<line x1="819.6" y1="1043.7" x2="881.1" y2="1043.7" stroke="#222" stroke-width="1.3"/>
<path d="M841.1 1036.8h19l-9.5 16.7Z" fill="#000"/>
<text x="897.75" y="1057.6" font-size="34.3" font-weight="bold" fill="#000" textLength="34.75" lengthAdjust="spacingAndGlyphs">S1</text>
<line x1="820.7" y1="1081.5" x2="881.9" y2="1081.5" stroke="#666" stroke-width="1.8"/>
<path d="M841.7 1074.6h19.2l-9.6 16.8Z" fill="#808080"/>
<text x="897.74" y="1095" font-size="34.3" font-weight="bold" fill="#000" textLength="35.13" lengthAdjust="spacingAndGlyphs">S2</text>
</g>
</svg>
</body></html>
